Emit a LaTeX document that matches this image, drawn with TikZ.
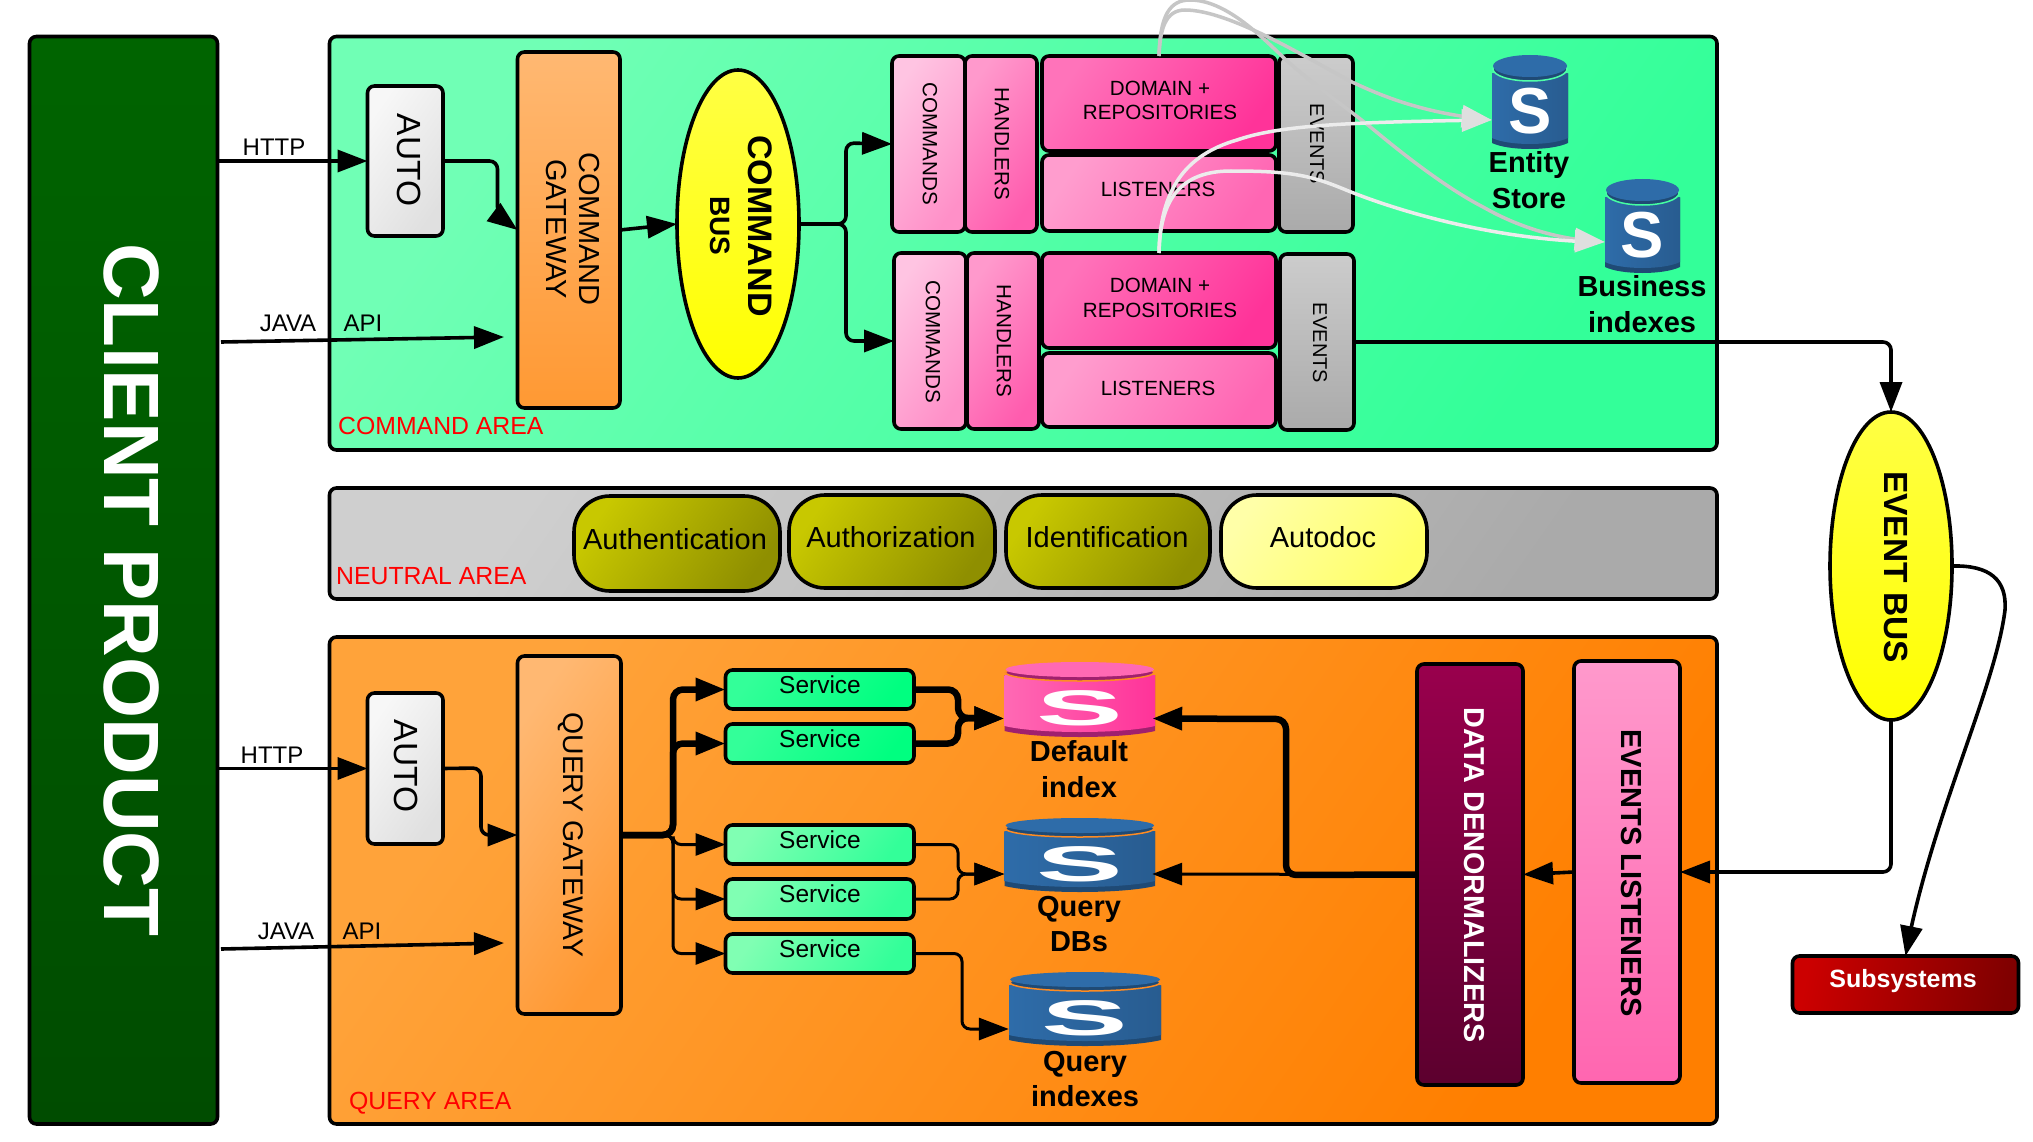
\documentclass[tikz,border=0pt]{standalone}
\usepackage{fontspec}
\usepackage{graphicx}
\setmainfont{Liberation Sans}
\usetikzlibrary{arrows.meta,calc,shapes.geometric,bending}
\definecolor{blueL}{HTML}{2E6CA9}
\definecolor{blueD}{HTML}{1F4A75}
\definecolor{blueM}{HTML}{285C90}
\definecolor{pinkL}{HTML}{FF69B4}
\definecolor{pinkD}{HTML}{A0206E}
\definecolor{pinkM}{HTML}{FF3399}
\definecolor{gapa}{HTML}{50FFA8}
\definecolor{gapb}{HTML}{45FFA2}
\definecolor{gapo}{HTML}{FF8C22}
\tikzset{
  x=1pt,y=-1pt,
  boxs/.style={draw=black,line width=3.6pt,rounded corners=7pt,inner sep=0pt,outer sep=0pt},
  grad/.code 2 args={\definecolor{ga}{HTML}{#1}\definecolor{gb}{HTML}{#2}\tikzset{shade,shading=axis,top color=ga,bottom color=gb,shading angle=55}},
  hgrad/.code 2 args={\definecolor{ga}{HTML}{#1}\definecolor{gb}{HTML}{#2}\tikzset{shade,shading=axis,top color=ga,bottom color=gb,shading angle=80}},
  vgrad/.code 2 args={\definecolor{ga}{HTML}{#1}\definecolor{gb}{HTML}{#2}\tikzset{shade,shading=axis,top color=ga,bottom color=gb}},
  rot/.style={rotate=-90,inner sep=0pt,align=center},
  txt/.style={inner sep=0pt,align=center},
  f/.style={font=\fontsize{#1}{30}\selectfont},
  bt/.style={font=\fontsize{#1}{30}\selectfont\bfseries},
  redlab/.style={inner sep=0pt,anchor=west,text=red,font=\fontsize{24.8}{28}\selectfont},
  dblab/.style={inner sep=0pt,align=center,font=\fontsize{29}{35.5}\selectfont\bfseries},
  tip/.style={-{Triangle[length=30pt,width=22pt]}},
  conn/.style={draw=black,line width=3.6pt,rounded corners=8pt,tip},
  thin conn/.style={draw=black,line width=3pt,rounded corners=8pt,tip},
  thick conn/.style={draw=black,line width=6.5pt,rounded corners=10pt,tip},
  gcurve/.style={line width=3.5pt,-{Triangle[length=30pt,width=22pt,fill=#1,color=#1]}},
}
\newcommand{\bx}[7]{%
  \pgfmathsetmacro\bxw{#4-#2}\pgfmathsetmacro\bxh{#5-#3}%
  \node[boxs,#6,minimum width=\bxw pt,minimum height=\bxh pt] (#1) at ({(#2+#4)/2},{(#3+#5)/2}) {#7};}
% name,x0,y0,x1,y1,top height,colour prefix,gap colour,S
\newcommand{\sdb}[9]{%
  \pgfmathsetmacro\xc{(#2+#4)/2}\pgfmathsetmacro\yc{(#3+#5)/2}%
  \pgfmathsetmacro\rx{(#4-#2)/2-1}\pgfmathsetmacro\ry{#6/2}%
  \pgfmathsetmacro\ym{#3+#6*0.72}\pgfmathsetmacro\yt{#3+#6/2}%
  \pgfmathsetmacro\xq{(#4-#2)*0.22}%
  \fill[#7D] (#2,\ym) -- (#2,#5-7) .. controls (#2+\xq,#5+1) and (#4-\xq,#5+1) .. (#4,#5-7) -- (#4,\ym) -- cycle;
  \shade[shading=axis,left color=#7L,right color=#7M] (#2,\ym) -- (#2,#5-12) .. controls (#2+\xq,#5-4) and (#4-\xq,#5-4) .. (#4,#5-12) -- (#4,\ym) -- cycle;
  \fill[#7D,draw=#8,line width=1.5pt] (\xc,\yt+1) ellipse [x radius=\rx pt,y radius=\ry pt];
  \fill[#7L] (\xc,\yt-2) ellipse [x radius=\rx pt,y radius=\ry pt-1pt];
  \pgfmathsetmacro\bxw{#4-#2}\pgfmathsetmacro\bxh{#5-#3}%
  \node[inner sep=0pt,minimum width=\bxw pt,minimum height=\bxh pt] (#1) at (\xc,\yc) {};
  \node[inner sep=0pt,text=white,font=\fontsize{65}{65}\selectfont\bfseries] (#1s) at (\xc,\yc+8) {#9};}
\begin{document}
\begin{tikzpicture}
\useasboundingbox (0,0) rectangle (2033,1142);
\fill[white] (0,0) rectangle (2033,1142);
% client
\bx{client}{29.5}{36.5}{217.5}{1124}{vgrad={006400}{004C00}}{}
\node[rot,text=white,bt=78.5] (clientt) at (132,590) {CLIENT PRODUCT};
% areas
\bx{cmdarea}{329.5}{36.5}{1717}{450}{grad={70FFB5}{33FF99}}{}
\bx{neuarea}{329.5}{488}{1717}{599}{grad={CFCFCF}{AAAAAA}}{}
\bx{qryarea}{329.5}{637}{1717}{1124}{grad={FFA33A}{FF7F00}}{}
\node[redlab] (cmdlab) at (338,426) {COMMAND AREA};
\node[redlab] (neulab) at (336,576) {NEUTRAL AREA};
\node[redlab] (qrylab) at (349,1103) {QUERY AREA};
% command side
\bx{auto1}{367.5}{86}{443}{236}{grad={F7F7F7}{E0E0E0}}{}
\node[rot,f=33.5] (auto1t) at (409,160) {AUTO};
\bx{gw}{517.5}{52}{620}{408}{vgrad={FFB872}{FF9933}}{}
\node[rot,font=\fontsize{29}{33.5}\selectfont] (gwt) at (573,229) {COMMAND\\GATEWAY};
\node[ellipse,draw=black,line width=3.6pt,inner sep=0pt,outer sep=0pt,vgrad={FFFF44}{FFFF00},minimum width=122pt,minimum height=308pt] (bus) at (738,224) {};
\node[rot,bt=34] (bust1) at (760,226) {COMMAND};
\node[rot,bt=28] (bust2) at (720,226) {BUS};
\bx{com1}{892}{56}{965}{232}{grad={FFC4E2}{FF90C8}}{}
\bx{han1}{965}{56}{1037}{232}{grad={FF99CC}{FF5CAE}}{}
\bx{dom1}{1042}{56}{1276}{151}{grad={FF73BA}{FF3399}}{}
\node[txt,font=\fontsize{20.6}{24}\selectfont] (dom1t) at (1160,100.5) {DOMAIN +\\REPOSITORIES};
\bx{lis1}{1042}{155}{1276}{231}{grad={FF9DCE}{FF66B3}}{}
\node[txt,f=20.6] (lis1t) at (1158,189) {LISTENERS};
\bx{evt1}{1279}{56}{1353}{232}{vgrad={CCCCCC}{AAAAAA}}{}
\node[rot,f=20.6] (com1t) at (930,144) {COMMANDS};
\node[rot,f=20.6] (han1t) at (1002,144) {HANDLERS};
\node[rot,f=20] (evt1t) at (1317,144) {EVENTS};
\bx{com2}{894}{253}{966}{429}{grad={FFC4E2}{FF90C8}}{}
\bx{han2}{967}{253}{1039}{429}{grad={FF99CC}{FF5CAE}}{}
\bx{dom2}{1042}{253}{1276}{348}{grad={FF73BA}{FF3399}}{}
\node[txt,font=\fontsize{20.6}{25}\selectfont] (dom2t) at (1160,298) {DOMAIN +\\REPOSITORIES};
\bx{lis2}{1042}{353}{1276}{427}{grad={FF9DCE}{FF66B3}}{}
\node[txt,f=20.6] (lis2t) at (1158,388) {LISTENERS};
\bx{evt2}{1280}{254}{1354}{430}{vgrad={CCCCCC}{AAAAAA}}{}
\node[rot,f=20.6] (com2t) at (933,342) {COMMANDS};
\node[rot,f=20.6] (han2t) at (1004,341) {HANDLERS};
\node[rot,f=20] (evt2t) at (1320,343) {EVENTS};
\sdb{entity}{1492}{56}{1568}{150}{24}{blue}{gapa}{S}
\sdb{bizidx}{1605}{180}{1680}{274}{24}{blue}{gapb}{S}
\node[dblab] (entityt) at (1529,180) {Entity\\Store};
\node[dblab] (bizidxt) at (1642,304) {Business\\indexes};
% neutral
\tikzset{pill/.style={draw=black,line width=3.6pt,rounded corners=36pt,inner sep=0pt,outer sep=0pt}}
\newcommand{\pill}[7]{\pgfmathsetmacro\bxw{#4-#2}\pgfmathsetmacro\bxh{#5-#3}\node[pill,#6,minimum width=\bxw pt,minimum height=\bxh pt] (#1) at ({(#2+#4)/2},{(#3+#5)/2}) {};\node[txt,f=29] (#1t) at #7;}
\pill{authn}{574}{496}{780}{591}{grad={C8C800}{8F8F00}}{(675,539) {Authentication}}
\pill{authz}{789}{495}{995}{588}{grad={C8C800}{8F8F00}}{(891,537) {Authorization}}
\pill{ident}{1006}{495}{1210}{588}{grad={C8C800}{8F8F00}}{(1107,537) {Identification}}
\pill{adoc}{1221}{495}{1427}{588}{grad={FFFFA8}{FFFF66}}{(1323,537) {Autodoc}}
% query side
\bx{auto2}{367.5}{693}{443}{844}{grad={F7F7F7}{E0E0E0}}{}
\node[rot,f=33.5] (auto2t) at (406,766) {AUTO};
\bx{qgw}{517.5}{656}{621}{1014}{grad={FFB872}{FF9933}}{}
\node[rot,f=28.4] (qgwt) at (571,835) {QUERY GATEWAY};
\tikzset{svca/.style={grad={33FF99}{00FF80}},svcb/.style={grad={80FFB3}{33FF99}}}
\newcommand{\svc}[4]{\bx{#1}{725.5}{#2}{914}{#3}{#4}{}\node[txt,f=24.5] (#1t) at (820,{#2+14.5}) {Service};}
\svc{s1}{670}{709}{svca}
\svc{s2}{724}{763}{svca}
\svc{s3}{825}{864}{svcb}
\svc{s4}{879}{919}{svcb}
\svc{s5}{934}{973}{svcb}
\sdb{db1}{1004.5}{663}{1155}{738}{17}{pink}{gapo}{\scalebox{2}[0.77]{S}}
\sdb{db2}{1004.5}{819}{1155}{893}{17}{blue}{gapo}{\scalebox{2}[0.77]{S}}
\sdb{db3}{1009}{973}{1161}{1047}{17}{blue}{gapo}{\scalebox{2}[0.77]{S}}
\node[dblab] (db1t) at (1079,769) {Default\\index};
\node[dblab] (db2t) at (1079,924) {Query\\DBs};
\node[dblab] (db3t) at (1085,1079) {Query\\indexes};
\bx{denorm}{1417}{664}{1523}{1085}{vgrad={99004D}{5C002E}}{}
\node[rot,bt=28.8,text=white] (denormt) at (1474,875) {DATA DENORMALIZERS};
\bx{evl}{1574}{661}{1680}{1083}{vgrad={FF99CC}{FF66B0}}{}
\node[rot,bt=29] (evlt) at (1631,873) {EVENTS LISTENERS};
\node[ellipse,draw=black,line width=3.6pt,inner sep=0pt,outer sep=0pt,vgrad={FFFF44}{FFFF00},minimum width=122pt,minimum height=308pt] (ebus) at (1891,566) {};
\node[rot,bt=33.5] (ebust) at (1896,567) {EVENT BUS};
\bx{subs}{1792.5}{956}{2018.5}{1013}{hgrad={CC0000}{800000}}{}
\node[txt,bt=25,text=white] (subst) at (1903,981) {Subsystems};
% labels
\node[txt,f=24] (http1) at (274,147) {HTTP};
\node[txt,f=24] (java1) at (288,323) {JAVA};
\node[txt,f=24] (api1) at (363,323) {API};
\node[txt,f=24] (http2) at (272,755) {HTTP};
\node[txt,f=24] (java2) at (286,931) {JAVA};
\node[txt,f=24] (api2) at (362,931) {API};
% connectors
\coordinate (j1s) at (221,342); \coordinate (j1e) at (504,337);
\coordinate (j2s) at (221,949); \coordinate (j2e) at (504,943);
\coordinate (qj) at (673,835);
\draw[conn] (client.east |- auto1.west) -- (auto1.west);
\draw[conn] (j1s) -- (j1e);
\draw[conn] (auto1.east) -- ($(gw.west |- auto1.east)+(-20,0)$) -- ($(gw.west)+(-20,-15)$) -- (gw.west);
\draw[conn] (gw.east) -- (bus.west);
\draw[conn] (bus.east) -- (846,224) -- (846,143) -- (com1.west);
\draw[conn] (bus.east) -- (846,224) -- (846,341) -- (com2.west);
\draw[conn] (evt2.east) -| (ebus.north);
\draw[conn] (ebus.south) |- (evl.east);
\draw[conn] (evl.west) -- (denorm.east);
\draw[thick conn] (denorm.west) -- (1286,875) -- (1286,719) -- ($(db1.east)+(-3,18)$);
\draw[thin conn] (denorm.west) -- ($(db2.east)+(-3,18)$);
\draw[conn] (client.east |- auto2.west) -- (auto2.west);
\draw[conn] (j2s) -- (j2e);
\draw[conn] (auto2.east) -- (481,768) -- (481,835) -- (qgw.west);
\draw[thick conn] (qgw.east) -- (qj) |- (s1.west);
\draw[thick conn] (qgw.east) -- (qj) |- (s2.west);
\draw[thin conn] (qgw.east) -- (qj) |- (s3.west);
\draw[thin conn] (qgw.east) -- (qj) |- (s4.west);
\draw[thin conn] (qgw.east) -- (qj) |- (s5.west);
\draw[thick conn] (s1.east) -- (958,689.5) -- (958,718) -- ($(db1.west)+(0,18)$);
\draw[thick conn] (s2.east) -- (958,743.5) -- (958,718) -- ($(db1.west)+(0,18)$);
\draw[thin conn] (s3.east) -- (958,844.5) -- (958,874) -- ($(db2.west)+(0,18)$);
\draw[thin conn] (s4.east) -- (958,899) -- (958,874) -- ($(db2.west)+(0,18)$);
\draw[thin conn] (s5.east) -- (962,953.5) -- (962,1029) -- ($(db3.west)+(0,19)$);
\draw[line width=3.6pt,tip] (ebus.east) .. controls (1990,565) and (2007,580) .. (2005,610) .. controls (1995,690) and (1930,820) .. (subs.north);
% grey curves
\draw[color=gray!45,gcurve=gray!25] (dom1.north) .. controls (1160,30) and (1165,10) .. (1185,10) .. controls (1230,10) and (1310,60) .. (1352,82) .. controls (1390,100) and (1430,114) .. ($(entity.west)+(0,17)$);
\draw[color=gray!45,gcurve=gray!25] (dom1.north) .. controls (1160,15) and (1170,0) .. (1190,0) .. controls (1225,0) and (1260,35) .. (1286,60) .. controls (1320,90) and (1350,110) .. (1374,130) .. controls (1410,160) and (1450,190) .. (1483,207) .. controls (1520,228) and (1560,240) .. ($(bizidx.west)+(0,15)$);
\draw[color=gray!15,gcurve=gray!25] (dom2.north) .. controls (1160,190) and (1185,155) .. (1237,140) .. controls (1280,125) and (1350,122) .. ($(entity.west)+(0,17)$);
\draw[color=gray!15,gcurve=gray!25] (dom2.north) .. controls (1160,200) and (1180,171) .. (1231,171) .. controls (1290,171) and (1310,175) .. (1346,190) .. controls (1420,220) and (1520,242) .. ($(bizidx.west)+(0,15)$);
\end{tikzpicture}
\end{document}
